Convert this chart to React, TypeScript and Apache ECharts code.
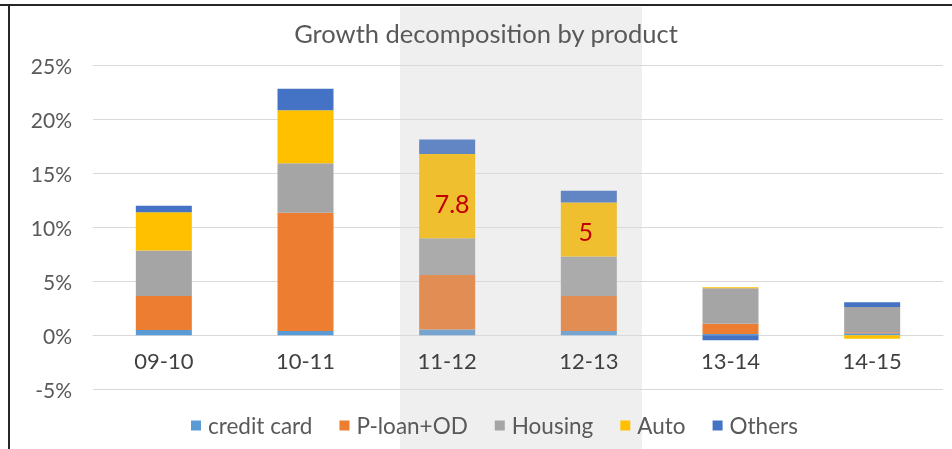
import React, { useEffect, useRef } from "react";
import * as echarts from "echarts";

const categories = ["09-10", "10-11", "11-12", "12-13", "13-14", "14-15"];
const creditCard = [0.5, 0.4, 0.55, 0.4, 0.12, 0.19];
const pLoanOD = [3.15, 10.95, 5.05, 3.25, 0.96, 0.09];
const housing = [4.2, 4.6, 3.4, 3.65, 3.29, 2.35];
const auto = [3.55, 4.9, 7.8, 5, 0.09, -0.32];
const others = [0.6, 2.0, 1.35, 1.1, -0.46, 0.44];
const seriesNames = ["credit card", "P-loan+OD", "Housing", "Auto", "Others"];
const yTicks = [-5, 0, 5, 10, 15, 20, 25];
const highlighted = [2, 3];
const labelled: Record<number, number[]> = { 2: [5, 7], 3: [-3, 1] };

const baseColors = ["#5b9bd5", "#ed7d31", "#a5a5a5", "#ffc000", "#4472c4"];
const shadedColors = ["#74a4cf", "#e18d54", "#ababab", "#efbf30", "#6285c3"];

const FONT = "Lato";

export default function App() {
  const ref = useRef<HTMLDivElement>(null);
  useEffect(() => {
    if (!ref.current) return;
    const chart = echarts.init(ref.current, undefined, { renderer: "svg" });
    const all = [creditCard, pLoanOD, housing, auto, others];
    const series = all.map((vals, si) => ({
      name: seriesNames[si],
      type: "bar",
      stack: "total",
      barWidth: 56,
      itemStyle: { color: baseColors[si] },
      data: vals.map((v, i) => {
        const item: any = { value: v };
        if (highlighted.includes(i)) item.itemStyle = { color: shadedColors[si] };
        if (si === 3 && labelled[i]) {
          item.label = {
            show: true,
            position: "inside",
            offset: labelled[i],
            color: "#c00000",
            fontSize: 25,
            fontFamily: FONT,
            formatter: (p: any) => String(p.value),
          };
        }
        return item;
      }),
    }));
    chart.setOption({
      animation: false,
      textStyle: { fontFamily: FONT },
      title: {
        text: "Growth decomposition by product",
        left: 481,
        textAlign: "center",
        top: 15,
        textStyle: { fontFamily: FONT, fontSize: 25.5, fontWeight: "normal", color: "#595959" },
      },
      legend: {
        data: seriesNames,
        left: 186,
        top: 409,
        itemWidth: 10,
        itemHeight: 10,
        itemGap: 27,
        icon: "rect",
        textStyle: { fontFamily: FONT, fontSize: 22.5, color: "#595959", padding: [0, 0, 0, 2] },
      },
      graphic: [
        { type: "rect", z: -1, shape: { x: 400, y: 7, width: 242, height: 442 }, style: { fill: "#efefef" } },
        { type: "line", z: 10, shape: { x1: 0, y1: 5, x2: 952, y2: 5 }, style: { stroke: "#262626", lineWidth: 2 } },
        { type: "line", z: 10, shape: { x1: 9, y1: 4, x2: 9, y2: 449 }, style: { stroke: "#262626", lineWidth: 2 } },
      ],
      grid: { left: 93, right: 9, top: 65.5, bottom: 59.7, containLabel: false },
      xAxis: {
        type: "category",
        data: categories,
        axisLine: { onZero: true, lineStyle: { color: "#d9d9d9" } },
        axisTick: { show: false },
        axisLabel: { fontFamily: FONT, fontSize: 22, color: "#404040", margin: -40 },
      },
      yAxis: {
        type: "value",
        min: yTicks[0],
        max: yTicks[yTicks.length - 1],
        interval: 5,
        axisLine: { show: false },
        axisTick: { show: false },
        splitLine: { lineStyle: { color: "#d9d9d9", width: 1 } },
        axisLabel: { fontFamily: FONT, fontSize: 21, color: "#595959", margin: 21, formatter: (v: number) => v + "%" },
      },
      series,
    });
    return () => chart.dispose();
  }, []);
  return <div ref={ref} style={{ position: "fixed", left: 0, top: 0, width: 952, height: 449 }} />;
}
